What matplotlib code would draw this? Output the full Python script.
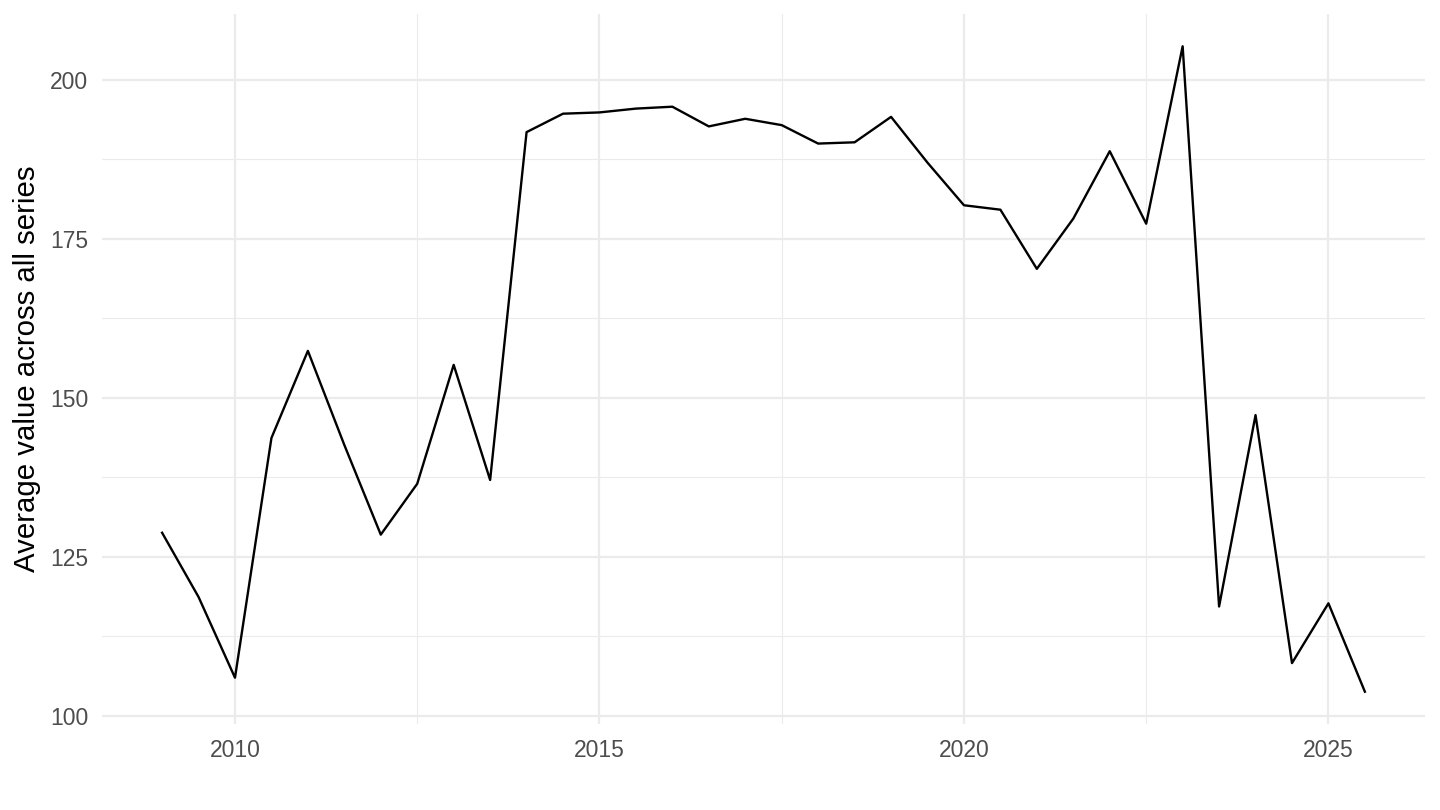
import numpy as np
import matplotlib.pyplot as plt
from matplotlib.ticker import MultipleLocator

# ----------------------------
# Data: half-yearly average across all series
# ----------------------------
years = [2009.0, 2009.5, 2010.0, 2010.5, 2011.0, 2011.5, 2012.0, 2012.5,
         2013.0, 2013.5, 2014.0, 2014.5, 2015.0, 2015.5, 2016.0, 2016.5,
         2017.0, 2017.5, 2018.0, 2018.5, 2019.0, 2019.5, 2020.0, 2020.5,
         2021.0, 2021.5, 2022.0, 2022.5, 2023.0, 2023.5, 2024.0, 2024.5,
         2025.0, 2025.5]
avg_value = [128.8, 118.7, 106.0, 143.7, 157.4, 142.6, 128.5, 136.5,
             155.2, 137.1, 191.8, 194.7, 194.9, 195.5, 195.8, 192.7,
             193.9, 192.9, 190.0, 190.2, 194.2, 187.0, 180.3, 179.6,
             170.3, 178.2, 188.8, 177.4, 205.3, 117.2, 147.3, 108.3,
             117.7, 103.8]

# ----------------------------
# Plot (ggplot theme_minimal look)
# ----------------------------
plt.rcParams['font.family'] = ['Liberation Sans', 'DejaVu Sans']

fig = plt.figure(figsize=(14.4, 8.1), dpi=100)
ax = fig.add_axes([0.0708, 0.1062, 0.9188, 0.8765])

ax.plot(years, avg_value, color="black", linewidth=1.7, zorder=3)

# ggplot-like 5% expansion
x = np.array(years)
y = np.array(avg_value)
xr = x.max() - x.min()
yr = y.max() - y.min()
ax.set_xlim(x.min() - 0.05 * xr, x.max() + 0.05 * xr)
ax.set_ylim(y.min() - 0.05 * yr, y.max() + 0.05 * yr)

ax.xaxis.set_major_locator(MultipleLocator(5))
ax.xaxis.set_minor_locator(MultipleLocator(2.5))
ax.yaxis.set_major_locator(MultipleLocator(25))
ax.yaxis.set_minor_locator(MultipleLocator(12.5))

ax.grid(True, which="major", color="#EBEBEB", linewidth=1.6)
ax.grid(True, which="minor", color="#EBEBEB", linewidth=0.8)
ax.set_axisbelow(True)

for s in ax.spines.values():
    s.set_visible(False)
ax.tick_params(which="both", length=0)
ax.tick_params(axis="both", labelsize=16.5, labelcolor="#4D4D4D")
ax.tick_params(axis="x", pad=11)
ax.tick_params(axis="y", pad=10)

ax.set_xlabel("")
ax.set_ylabel("Average value across all series", fontsize=21.2,
              color="black", labelpad=6)

fig.savefig("out.png", dpi=100, facecolor="white")
